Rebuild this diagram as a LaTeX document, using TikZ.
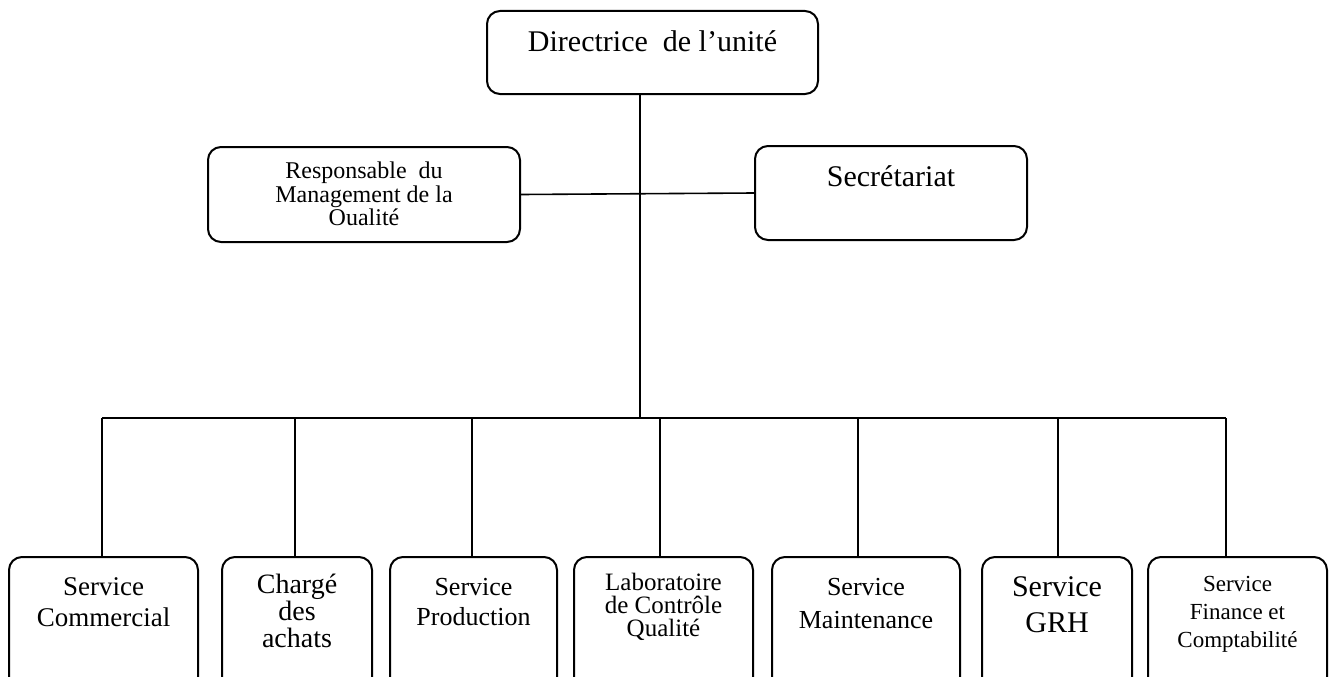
\documentclass[tikz,border=0pt]{standalone}
\usepackage{fontspec}
\setmainfont{Liberation Serif}
\newcommand{\fsz}[2]{\fontsize{#1}{#2}\selectfont}
\tikzset{
  unit/.style={draw,line width=2pt,rounded corners=13pt,inner sep=0pt},
  txt/.style={anchor=north,align=center,inner sep=0pt},
  link/.style={line width=1.6pt}
}

\begin{document}
\begin{tikzpicture}[x=1pt,y=-1pt]
    \useasboundingbox (0,0) rectangle (1333,677);
    % top and staff boxes
    \node[unit,minimum width=331pt,minimum height=83pt,
      label={[txt,yshift=-20pt,font=\fsz{30}{34}]90:Directrice\ \ de l’unité}] (dir) at (652.5,52.5) {};
    \node[unit,minimum width=312pt,minimum height=95pt,
      label={[txt,yshift=-16pt,font=\fsz{24}{23.5}]90:Responsable\ \ du\\Management de la\\Oualité}] (rmq) at (364,194.5) {};
    \node[unit,minimum width=272pt,minimum height=94pt,
      label={[txt,yshift=-20pt,font=\fsz{30}{34}]90:Secrétariat}] (sec) at (891,193) {};
    % services
    \node[unit,minimum width=189pt,minimum height=133pt,
      label={[txt,yshift=-21pt,font=\fsz{27}{31}]90:Service\\Commercial}] (com) at (103.5,623.5) {};
    \node[unit,minimum width=150pt,minimum height=133pt,
      label={[txt,yshift=-18pt,font=\fsz{28}{27}]90:Chargé\\des\\achats}] (ach) at (297,623.5) {};
    \node[unit,minimum width=167pt,minimum height=133pt,
      label={[txt,yshift=-22pt,font=\fsz{26}{30}]90:Service\\Production}] (prod) at (473.5,623.5) {};
    \node[unit,minimum width=179pt,minimum height=133pt,
      label={[txt,yshift=-17pt,font=\fsz{25}{23}]90:Laboratoire\\de Contrôle\\Qualité}] (labo) at (663.5,623.5) {};
    \node[unit,minimum width=188pt,minimum height=133pt,
      label={[txt,yshift=-22pt,font=\fsz{26}{33}]90:Service\\Maintenance}] (maint) at (866,623.5) {};
    \node[unit,minimum width=150pt,minimum height=133pt,
      label={[txt,yshift=-20pt,font=\fsz{30}{36}]90:Service\\GRH}] (grh) at (1057,623.5) {};
    \node[unit,minimum width=179pt,minimum height=133pt,
      label={[txt,yshift=-20pt,font=\fsz{23}{28}]90:Service\\Finance et\\Comptabilité}] (fin) at (1237.5,623.5) {};
    % links
    \coordinate (spine) at (640,419);
    \coordinate (d1) at (102,418);
    \coordinate (d2) at (295,418);
    \coordinate (d3) at (472,418);
    \coordinate (d4) at (660,418);
    \coordinate (d5) at (858,418);
    \coordinate (d6) at (1058,418);
    \coordinate (d7) at (1226,418);
    \draw[link] (dir.south -| spine) -- (spine);
    \draw[link] (rmq.east) -- (sec.west);
    \draw[link] (d1) -- (d7);
    \draw[link] (d1) -- (d1 |- com.north);
    \draw[link] (d2) -- (d2 |- ach.north);
    \draw[link] (d3) -- (d3 |- prod.north);
    \draw[link] (d4) -- (d4 |- labo.north);
    \draw[link] (d5) -- (d5 |- maint.north);
    \draw[link] (d6) -- (d6 |- grh.north);
    \draw[link] (d7) -- (d7 |- fin.north);
\end{tikzpicture}
\end{document}
